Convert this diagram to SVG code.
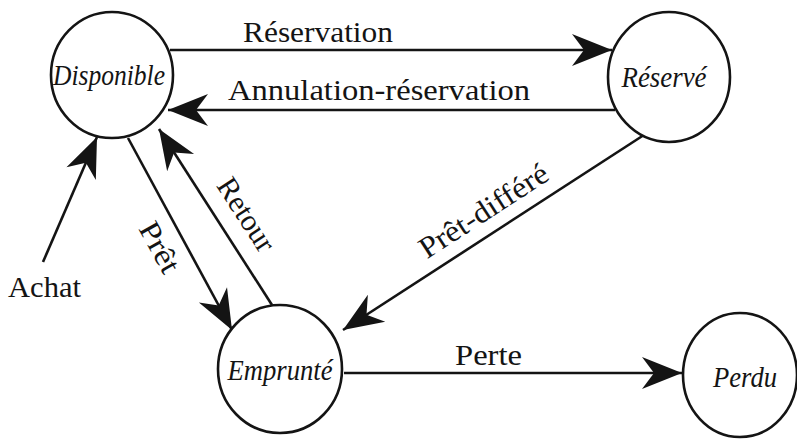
<svg xmlns="http://www.w3.org/2000/svg" width="797" height="439" viewBox="0 0 797 439">
<style>
.node{fill:#fff;stroke:#141414;stroke-width:2.6}
.edge{fill:none;stroke:#141414;stroke-width:2.6;marker-end:url(#arr)}
.nl{font-family:"Liberation Serif","Times New Roman",serif;font-style:italic;font-size:29px;fill:#141414;text-anchor:middle}
.el{font-family:"Liberation Serif","Times New Roman",serif;font-size:30px;fill:#141414}
</style>
<defs>
<marker id="arr" markerUnits="userSpaceOnUse" viewBox="-42 -17 43 34" refX="0" refY="0" markerWidth="43" markerHeight="34" orient="auto">
<path d="M0,0 L-40,-16 L-28,0 L-40,16 Z" fill="#141414"/>
</marker>
</defs>
<rect width="797" height="439" fill="#fff"/>
<g id="connectors">
<line class="edge" x1="170" y1="50" x2="612" y2="50"/>
<line class="edge" x1="615" y1="110" x2="168" y2="110"/>
<line class="edge" x1="43" y1="262" x2="97" y2="137"/>
<line class="edge" x1="128" y1="138" x2="232" y2="330"/>
<line class="edge" x1="272" y1="305" x2="159" y2="129"/>
<line class="edge" x1="647" y1="133" x2="343" y2="330"/>
<line class="edge" x1="344" y1="373" x2="682" y2="373"/>
<text class="el" x="243" y="42" textLength="150" lengthAdjust="spacingAndGlyphs">Réservation</text>
<text class="el" x="228" y="100" textLength="302" lengthAdjust="spacingAndGlyphs">Annulation-réservation</text>
<text class="el" x="8" y="297" textLength="73" lengthAdjust="spacingAndGlyphs">Achat</text>
<text class="el" x="455" y="365" textLength="67" lengthAdjust="spacingAndGlyphs">Perte</text>
<text class="el" text-anchor="middle" transform="translate(151,252) rotate(61)" textLength="54" lengthAdjust="spacingAndGlyphs">Prêt</text>
<text class="el" text-anchor="middle" transform="translate(238,220) rotate(57)" textLength="82" lengthAdjust="spacingAndGlyphs">Retour</text>
<text class="el" text-anchor="middle" transform="translate(489,219) rotate(-33)" textLength="148" lengthAdjust="spacingAndGlyphs">Prêt-différé</text>
</g>
<g id="disponible">
<ellipse class="node" cx="112" cy="75" rx="61" ry="63"/>
<text class="nl" x="109" y="85" textLength="112" lengthAdjust="spacingAndGlyphs">Disponible</text>
</g>
<g id="reserve">
<ellipse class="node" cx="669" cy="77" rx="61" ry="65"/>
<text class="nl" x="664" y="87" textLength="85" lengthAdjust="spacingAndGlyphs">Réservé</text>
</g>
<g id="emprunte">
<ellipse class="node" cx="280" cy="369" rx="62" ry="64"/>
<text class="nl" x="280" y="380" textLength="105" lengthAdjust="spacingAndGlyphs">Emprunté</text>
</g>
<g id="perdu">
<ellipse class="node" cx="740" cy="375" rx="57" ry="62"/>
<text class="nl" x="745" y="387" textLength="64" lengthAdjust="spacingAndGlyphs">Perdu</text>
</g>
</svg>
